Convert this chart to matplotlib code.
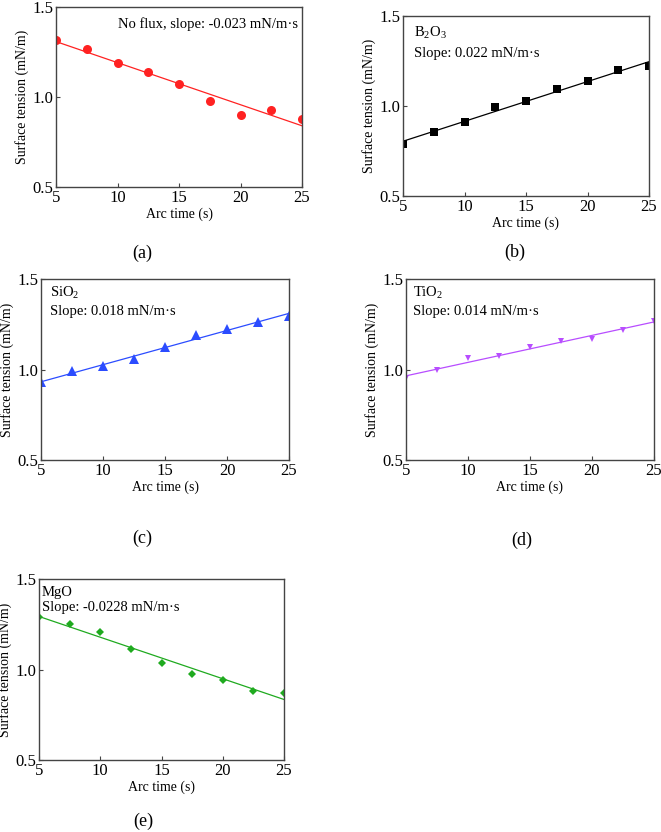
import numpy as np
import matplotlib
matplotlib.use("Agg")
import matplotlib.pyplot as plt

plt.rcParams["font.family"] = ["Liberation Serif", "DejaVu Serif"]
plt.rcParams["mathtext.fontset"] = "custom"
plt.rcParams["mathtext.rm"] = "Liberation Serif"
plt.rcParams["mathtext.default"] = "rm"

# ---- data ----
arc_time = [5, 7.5, 10, 12.5, 15, 17.5, 20, 22.5, 25]
no_flux = [1.319, 1.265, 1.189, 1.137, 1.070, 0.980, 0.900, 0.926, 0.880]
b2o3 = [0.789, 0.854, 0.911, 0.994, 1.028, 1.094, 1.137, 1.198, 1.222]
sio2 = [0.929, 0.990, 1.019, 1.056, 1.122, 1.189, 1.226, 1.262, 1.297]
tio2 = [0.951, 0.997, 1.062, 1.076, 1.124, 1.157, 1.170, 1.220, 1.268]
mgo = [1.288, 1.252, 1.209, 1.113, 1.038, 0.974, 0.944, 0.883, 0.872]

x_ticks = [5, 10, 15, 20, 25]
y_ticks = [0.5, 1.0, 1.5]

W, H, DPI = 661, 832, 100

# panel: (data, colour, marker, size, box px (l, t, r, b), texts, label, label pos)
panels = [
    (no_flux, "#ff2222", "o", 6.5, (56, 7, 302, 187),
     [("No flux, slope: -0.023 mN/m·s", 0.252, 0.905)], "(a)", (142, 253)),
    (b2o3, "black", "s", 5.2, (403, 16, 649, 196),
     [("B$_2$O$_3$", 0.045, 0.905), ("Slope: 0.022 mN/m·s", 0.045, 0.79)], "(b)", (515, 252)),
    (sio2, "#2b4cff", "^", 6.5, (41, 279, 289, 460),
     [("SiO$_2$", 0.036, 0.925), ("Slope: 0.018 mN/m·s", 0.036, 0.82)], "(c)", (142, 538)),
    (tio2, "#b84dff", "v", 5.0, (406, 279, 654, 460),
     [("TiO$_2$", 0.028, 0.925), ("Slope: 0.014 mN/m·s", 0.028, 0.82)], "(d)", (522, 540)),
    (mgo, "#1faa1f", "D", 4.5, (39, 579, 284, 760),
     [("MgO", 0.012, 0.925), ("Slope: -0.0228 mN/m·s", 0.012, 0.84)], "(e)", (143, 821)),
]

fig = plt.figure(figsize=(W / DPI, H / DPI), dpi=DPI)

for ys, color, marker, ms, box, texts, label, lpos in panels:
    l, t, r, b = box
    ax = fig.add_axes([l / W, 1 - b / H, (r - l) / W, (b - t) / H])
    x = np.array(arc_time)
    y = np.array(ys)
    # linear fit
    k, c = np.polyfit(x, y, 1)
    xf = np.array([5, 25])
    ax.plot(xf, k * xf + c, color=color, lw=0.9)
    ax.plot(x, y, linestyle="none", marker=marker, ms=ms, color=color,
            markeredgewidth=0)
    ax.set_xlim(5, 25)
    ax.set_ylim(0.5, 1.5)
    ax.set_xticks(x_ticks)
    ax.set_yticks(y_ticks)
    ax.set_yticklabels([f"{v:.1f}" for v in y_ticks])
    ax.tick_params(direction="in", length=3, width=0.8, labelsize=12,
                   color="#444444", pad=2)
    for s in ax.spines.values():
        s.set_color("#444444")
        s.set_linewidth(1.0)
    ax.set_xlabel("Arc time (s)", fontsize=10, labelpad=1)
    ax.set_ylabel("Surface tension (mN/m)", fontsize=10, labelpad=2)
    for txt, tx, ty in texts:
        ax.text(tx, ty, txt, transform=ax.transAxes, fontsize=10.5,
                ha="left", va="center")
    fig.text(lpos[0] / W, 1 - lpos[1] / H, label, fontsize=13,
             ha="center", va="center")

fig.savefig("out.png", dpi=DPI, facecolor="white")
